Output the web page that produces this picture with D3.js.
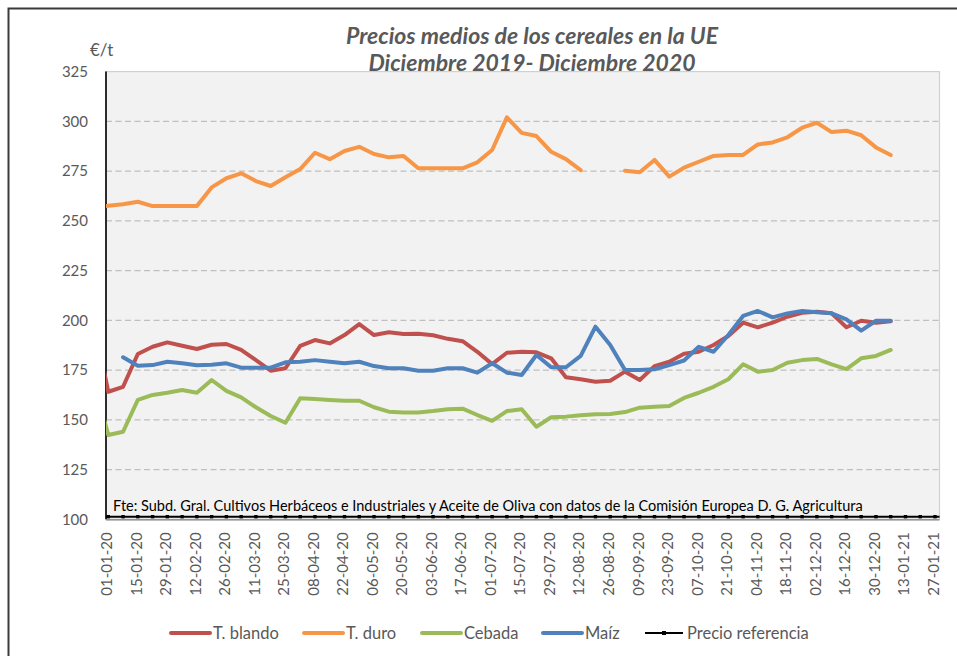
<!DOCTYPE html>
<html><head><meta charset="utf-8">
<script src="https://cdn.jsdelivr.net/npm/d3@7"></script>
<style>
body{margin:0;background:#fff}
svg{display:block}
text{font-family:Lato,"Open Sans",sans-serif}
</style>
</head><body>
<svg id="chart" width="957" height="656"></svg>
<script>
// ---------- DATA ----------
const semanas = ["25-12-19","01-01-20","08-01-20","15-01-20","22-01-20","29-01-20","05-02-20","12-02-20","19-02-20","26-02-20",
"04-03-20","11-03-20","18-03-20","25-03-20","01-04-20","08-04-20","15-04-20","22-04-20","29-04-20","06-05-20",
"13-05-20","20-05-20","27-05-20","03-06-20","10-06-20","17-06-20","24-06-20","01-07-20","08-07-20","15-07-20",
"22-07-20","29-07-20","05-08-20","12-08-20","19-08-20","26-08-20","02-09-20","09-09-20","16-09-20","23-09-20",
"30-09-20","07-10-20","14-10-20","21-10-20","28-10-20","04-11-20","11-11-20","18-11-20","25-11-20","02-12-20",
"09-12-20","16-12-20","23-12-20","30-12-20","06-01-21"];
const semanasReferencia = semanas.concat(["13-01-21","20-01-21","27-01-21","03-02-21"]);

const tBlando = [200,164.1,166.6,183.1,186.7,188.9,187.2,185.6,187.7,188.1,
185.1,180,174.7,175.9,187.2,190.1,188.4,192.6,198.1,192.6,
194,193.1,193.3,192.5,190.7,189.5,184.2,178,183.7,184.2,
183.9,180.9,171.4,170.4,169.1,169.6,174.2,170,177,179.2,
183.2,184.2,187.6,192.1,198.8,196.5,198.8,201.8,203.8,204.3,
203.5,196.5,199.8,198.8,199.5];

const tDuro = [257,257.6,258.3,259.6,257.4,257.4,257.4,257.4,266.8,271.4,
273.9,270,267.5,271.9,276,284.2,281,285.1,287.2,283.6,
281.9,282.6,276.4,276.4,276.4,276.4,279.4,285.6,302,294.2,
292.6,284.7,281,275.5,null,null,275.2,274.4,280.6,272.2,
276.7,279.7,282.6,283.1,283.1,288.4,289.4,292,296.8,299.3,
294.6,295.3,293,286.9,283.1];

const cebada = [170,142.4,144,160,162.5,163.6,165,163.6,170,164.5,
161.3,156.3,151.9,148.5,160.8,160.5,160,159.6,159.6,156.3,
154.1,153.7,153.7,154.4,155.3,155.6,152.4,149.5,154.4,155.3,
146.5,151.3,151.6,152.3,152.8,152.9,153.9,156.1,156.6,156.9,
161,163.6,166.6,170.4,177.9,174.2,175,178.7,180,180.6,
177.9,175.5,180.9,182.1,185.1];

const maiz = [null,null,181.4,177.2,177.5,179.2,178.4,177.4,177.7,178.4,
176.2,176.2,176.2,178.9,179.2,180,179.2,178.4,179.2,177,
175.9,175.9,174.7,174.7,175.9,175.9,173.7,178.4,173.7,172.5,
182.6,176.4,176.4,182.1,196.8,187.6,175,175,175.4,177.5,
179.8,186.7,184.2,192.6,202.2,204.7,201.5,203.5,204.7,204,
203.5,200.5,194.8,199.8,199.8];

const precioReferencia = 101.31;

const etiquetasX = ["01-01-20","15-01-20","29-01-20","12-02-20","26-02-20","11-03-20","25-03-20","08-04-20","22-04-20","06-05-20",
"20-05-20","03-06-20","17-06-20","01-07-20","15-07-20","29-07-20","12-08-20","26-08-20","09-09-20","23-09-20",
"07-10-20","21-10-20","04-11-20","18-11-20","02-12-20","16-12-20","30-12-20","13-01-21","27-01-21"];
const ticksY = [100,125,150,175,200,225,250,275,300,325];

const seriesNames = ["T. blando","T. duro","Cebada","Maíz","Precio referencia"];
const colors = ["#c0504d","#f79646","#9bbb59","#4f81bd","#000000"];

const titulo1 = "Precios medios de los cereales en la UE";
const titulo2 = "Diciembre 2019- Diciembre 2020";
const unidad = "€/t";
const fuente = "Fte: Subd. Gral. Cultivos Herbáceos e Industriales y Aceite de Oliva con datos de la Comisión Europea D. G. Agricultura";

// ---------- LAYOUT ----------
const parse = d3.timeParse("%d-%m-%y");
const svg = d3.select("#chart");
const P = {left:106, right:939.5, top:71.6, bottom:519.3};

const x = d3.scaleTime().domain([parse("01-01-20"), parse("27-01-21")]).range([108.3, 935]);
const y = d3.scaleLinear().domain([100,325]).range([P.bottom, P.top]);

// outer frame
svg.append("path").attr("d","M8.5,656V8.5H957").attr("fill","none").attr("stroke","#3a3a3a").attr("stroke-width",2);

// plot area
svg.append("rect").attr("x",P.left).attr("y",P.top).attr("width",P.right-P.left).attr("height",P.bottom-P.top)
  .attr("fill","#f2f2f2").attr("stroke","#d0d0d0").attr("stroke-width",1.2);

// gridlines
const yAxisG = svg.append("g");
yAxisG.selectAll("line.grid").data(ticksY.filter(v=>v>100 && v<325)).join("line")
  .attr("class","grid")
  .attr("x1",P.left).attr("x2",P.right)
  .attr("y1",d=>y(d)).attr("y2",d=>y(d))
  .attr("stroke","#bfbfbf").attr("stroke-width",1.3).attr("stroke-dasharray","6,3.5");

// y axis labels via d3 axis
const yAxis = d3.axisLeft(y).tickValues(ticksY).tickSize(0).tickPadding(0);
const ya = svg.append("g").attr("transform",`translate(88,0)`).call(yAxis);
ya.select(".domain").remove();
ya.selectAll("text").attr("font-size",15).attr("fill","#595959").attr("font-family","Lato");

// y axis line
svg.append("line").attr("x1",P.left).attr("x2",P.left).attr("y1",P.top).attr("y2",P.bottom)
  .attr("stroke","#000").attr("stroke-width",1.6);

// x axis labels
const xTicks = etiquetasX.map(parse);
const xAxis = d3.axisBottom(x).tickValues(xTicks).tickSize(0).tickFormat(d3.timeFormat("%d-%m-%y"));
const xa = svg.append("g").attr("transform",`translate(0,${P.bottom})`).call(xAxis);
xa.select(".domain").remove();
xa.selectAll(".tick text")
  .attr("font-size",15).attr("fill","#595959").attr("font-family","Lato")
  .attr("text-anchor","end")
  .attr("transform","translate(-2,13) rotate(-90)")
  .attr("x",0).attr("y",0).attr("dy","0.35em");

// clip
svg.append("clipPath").attr("id","clip").append("rect")
  .attr("x",P.left).attr("y",P.top-5).attr("width",P.right-P.left).attr("height",P.bottom-P.top+10);

// source text
svg.append("text").attr("x",113).attr("y",511).attr("font-size",14.5).attr("fill","#000").text(fuente);

// x-axis baseline
svg.append("line").attr("x1",P.left).attr("x2",P.right).attr("y1",P.bottom+0.5).attr("y2",P.bottom+0.5)
  .attr("stroke","#7f7f7f").attr("stroke-width",1.2);

// lines
const line = d3.line().defined(d=>d.v!=null).x(d=>x(d.t)).y(d=>y(d.v));
const seriesData = [tBlando,tDuro,cebada,maiz];
const gLines = svg.append("g").attr("clip-path","url(#clip)");
seriesData.forEach((arr,i)=>{
  const pts = semanas.map((s,j)=>({t:parse(s), v:arr[j]}));
  gLines.append("path").datum(pts).attr("d",line)
    .attr("fill","none").attr("stroke",colors[i]).attr("stroke-width",4)
    .attr("stroke-linejoin","round").attr("stroke-linecap","round");
});
// reference
const refPts = semanasReferencia.map(s=>({t:parse(s), v:precioReferencia}));
gLines.append("path").datum(refPts).attr("d",line).attr("fill","none").attr("stroke","#000").attr("stroke-width",2);
gLines.selectAll("rect.mk").data(refPts).join("rect").attr("class","mk")
  .attr("x",d=>x(d.t)-1.7).attr("y",d=>y(d.v)-1.7).attr("width",3.4).attr("height",3.4).attr("fill","#000");

// title
svg.append("text").attr("x",532).attr("y",44).attr("text-anchor","middle")
  .attr("font-size",23).attr("font-weight","bold").attr("font-style","italic").attr("fill","#595959").text(titulo1);
svg.append("text").attr("x",532).attr("y",71).attr("text-anchor","middle")
  .attr("font-size",23).attr("font-weight","bold").attr("font-style","italic").attr("fill","#595959").text(titulo2);
// unit
svg.append("text").attr("x",90).attr("y",56).attr("font-size",17).attr("fill","#595959").text(unidad);

// legend
const legX = [171,304,422,543,645];
const legY = 633;
const lg = svg.append("g");
seriesNames.forEach((n,i)=>{
  const g = lg.append("g").attr("transform",`translate(${legX[i]},${legY})`);
  if(i<4){
    g.append("line").attr("x1",0).attr("x2",39).attr("y1",0).attr("y2",0)
      .attr("stroke",colors[i]).attr("stroke-width",4).attr("stroke-linecap","round");
  } else {
    g.append("line").attr("x1",0).attr("x2",38).attr("y1",0).attr("y2",0).attr("stroke","#000").attr("stroke-width",2);
    g.append("rect").attr("x",17).attr("y",-2).attr("width",4).attr("height",4).attr("fill","#000");
  }
  g.append("text").attr("x",42).attr("y",0).attr("dy","0.35em").attr("font-size",16.5).attr("fill","#595959").text(n);
});
</script>
</body></html>
